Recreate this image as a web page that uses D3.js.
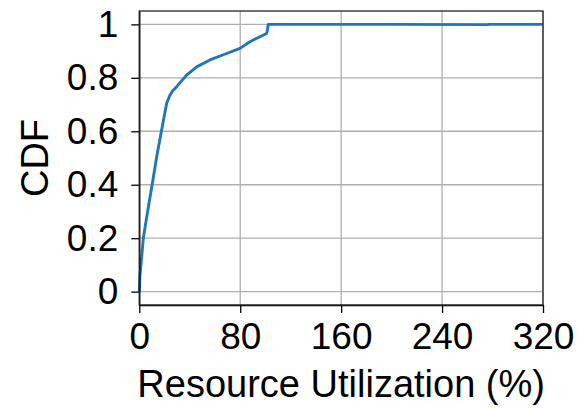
<!DOCTYPE html>
<html>
<head>
<meta charset="utf-8">
<script src="https://cdn.jsdelivr.net/npm/d3@7"></script>
<style>
  body { margin: 0; background: #fff; }
  text { font-family: "Liberation Sans", Arial, sans-serif; fill: #000; }
</style>
</head>
<body>
<svg id="chart" width="583" height="408"></svg>
<script>
// CDF points (utilization %, cumulative fraction)
var util = [0, 0.5, 1.9, 3.2, 5.9, 9.8, 13.8, 17.7, 21.7, 24, 26.5, 29.6, 37.5, 45.5, 56, 69.2, 79.8, 87.7, 100.9, 101.4, 102.2, 200, 276, 277, 320];
var cdf  = [0, 0.06, 0.13, 0.2, 0.28, 0.39, 0.505, 0.605, 0.705, 0.732, 0.752, 0.767, 0.81, 0.841, 0.867, 0.891, 0.91, 0.935, 0.966, 0.975, 1.0, 1.0, 0.999, 1.0, 1.0];

var xTicks = [0, 80, 160, 240, 320];
var xTickLabels = ["0", "80", "160", "240", "320"];
var yTicks = [0, 0.2, 0.4, 0.6, 0.8, 1];
var yTickLabels = ["0", "0.2", "0.4", "0.6", "0.8", "1"];

var svg = d3.select('#chart');
var pLeft = 139.3, pRight = 543, pTop = 11, pBottom = 305;

var x = d3.scaleLinear().domain([0, 320]).range([pLeft, pRight]);
var y = d3.scaleLinear().domain([-0.05, 1.05]).range([pBottom, pTop]);

// grid
var grid = svg.append('g').attr('class', 'grid');
grid.selectAll('line.gx')
    .data(xTicks)
  .enter().append('line')
    .attr('class', 'gx')
    .attr('x1', function(d) { return x(d) }).attr('x2', function(d) { return x(d) })
    .attr('y1', pTop).attr('y2', pBottom)
    .attr('stroke', '#b0b0b0').attr('stroke-width', 1.3);
grid.selectAll('line.gy')
    .data(yTicks)
  .enter().append('line')
    .attr('class', 'gy')
    .attr('y1', function(d) { return y(d) }).attr('y2', function(d) { return y(d) })
    .attr('x1', pLeft).attr('x2', pRight)
    .attr('stroke', '#b0b0b0').attr('stroke-width', 1.3);

// curve
var pts = util.map(function(u, i) { return [u, cdf[i]] });
var line = d3.line()
    .x(function(d) { return x(d[0]) })
    .y(function(d) { return y(d[1]) });
svg.append('path')
    .datum(pts)
    .attr('d', line)
    .attr('fill', 'none')
    .attr('stroke', '#1f77b4')
    .attr('stroke-width', 2.9)
    .attr('stroke-linejoin', 'round');

// axes
var xAxis = d3.axisBottom(x)
    .tickValues(xTicks)
    .tickFormat(function(d, i) { return xTickLabels[i] })
    .tickSize(8).tickSizeOuter(0).tickPadding(10);
var yAxis = d3.axisLeft(y)
    .tickValues(yTicks)
    .tickFormat(function(d, i) { return yTickLabels[i] })
    .tickSize(8).tickSizeOuter(0).tickPadding(13);

var gx = svg.append('g').attr('transform', 'translate(0,' + pBottom + ')').call(xAxis);
var gy = svg.append('g').attr('transform', 'translate(' + pLeft + ',0)').call(yAxis);
[gx, gy].forEach(function(g) {
    g.attr('font-family', null).attr('font-size', null);
    g.selectAll('text').style('font-size', '37px').attr('fill', '#000');
    g.selectAll('line').attr('stroke', '#000').attr('stroke-width', 1.3);
    g.select('.domain').attr('stroke', '#000').attr('stroke-width', 1.3);
});

// frame
svg.append('rect')
    .attr('x', pLeft).attr('y', pTop)
    .attr('width', pRight - pLeft).attr('height', pBottom - pTop)
    .attr('fill', 'none').attr('stroke', '#222').attr('stroke-width', 1.3);

// labels
svg.append('text')
    .attr('x', (pLeft + pRight) / 2).attr('y', 397)
    .attr('text-anchor', 'middle')
    .style('font-size', '38px')
    .text('Resource Utilization (%)');
svg.append('text')
    .attr('transform', 'translate(48,' + ((pTop + pBottom) / 2) + ') rotate(-90)')
    .attr('text-anchor', 'middle')
    .style('font-size', '38px')
    .text('CDF');
</script>
</body>
</html>
